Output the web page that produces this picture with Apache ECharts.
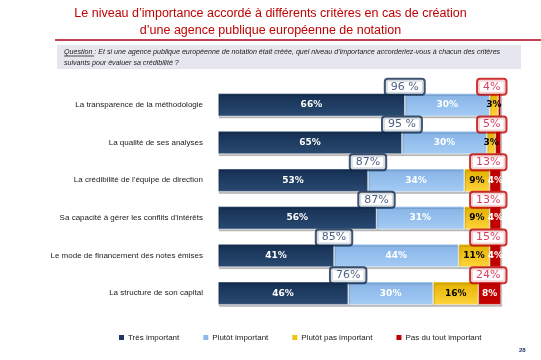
<!DOCTYPE html>
<html>
<head>
<meta charset="utf-8">
<script src="https://cdn.jsdelivr.net/npm/echarts@6/dist/echarts.min.js"></script>
<style>
html,body{margin:0;padding:0;background:#fff;}
#c{width:541px;height:360px;}
</style>
</head>
<body>
<div id="c"></div>
<script>
var categories = [
  "La transparence de la méthodologie",
  "La qualité de ses analyses",
  "La crédibilité de l'équipe de direction",
  "Sa capacité à gérer les conflits d'intérêts",
  "Le mode de financement des notes émises",
  "La structure de son capital"
];
var seriesNames = ["Très important", "Plutôt important", "Plutôt pas important", "Pas du tout important"];
var tresImportant = [66, 65, 53, 56, 41, 46];
var plutotImportant = [30, 30, 34, 31, 44, 30];
var plutotPasImportant = [3, 3, 9, 9, 11, 16];
var pasDuToutImportant = [1, 2, 4, 4, 4, 8];
var totalImportant = [96, 95, 87, 87, 85, 76];
var totalPasImportant = [4, 5, 13, 13, 15, 24];
var totalImportantSep = [" ", " ", "", "", "", ""];

var chart = echarts.init(document.getElementById('c'), null, {renderer: 'canvas'});

function grad(c1, c2) {
  return new echarts.graphic.LinearGradient(0, 0, 0, 1, [
    {offset: 0, color: c1}, {offset: 1, color: c2}
  ]);
}
var colors = [
  grad('#142f52', '#2a4a72'),
  grad('#86b3e6', '#a3cbf4'),
  grad('#e2b000', '#ffd43a'),
  grad('#c00000', '#c40000')
];
var legendColors = ['#1f3864', '#8db8ea', '#f2c40f', '#c00000'];

var valueArrays = [tresImportant, plutotImportant, plutotPasImportant, pasDuToutImportant];
var labelColors = ['#ffffff', '#ffffff', '#000000', '#ffffff'];
var minShow = [1, 1, 1, 3];

var barSeries = valueArrays.map(function (arr, i) {
  return {
    name: seriesNames[i],
    type: 'bar',
    stack: 'total',
    barWidth: 23,
    data: arr,
    itemStyle: {
      color: colors[i],
      borderColor: '#ffffff',
      borderWidth: 0.5,
      shadowColor: 'rgba(0,0,0,0.25)',
      shadowOffsetY: 2,
      shadowOffsetX: 1
    },
    label: {
      show: true,
      position: 'inside',
      color: labelColors[i],
      fontFamily: 'DejaVu Sans',
      fontWeight: 'bold',
      fontSize: 9,
      formatter: function (p) { return p.value >= minShow[i] ? p.value + '%' : ''; }
    },
    emphasis: {disabled: true},
    z: 2
  };
});

var importantBoxes = {
  type: 'scatter',
  symbolSize: 1,
  itemStyle: {color: 'rgba(0,0,0,0)'},
  data: tresImportant.map(function (v, i) { return [v, i]; }),
  label: {
    show: true,
    position: 'inside',
    offset: [0, -18],
    formatter: function (p) { return totalImportant[p.dataIndex] + totalImportantSep[p.dataIndex] + '%'; },
    color: '#1f3864',
    fontFamily: 'DejaVu Sans',
    fontSize: 11,
    backgroundColor: '#ffffff',
    borderColor: '#0f2a4d',
    borderWidth: 2,
    borderRadius: 2,
    padding: [2, 5, 1, 5]
  },
  emphasis: {disabled: true},
  z: 5
};
var notImportantBoxes = {
  type: 'scatter',
  symbolSize: 1,
  itemStyle: {color: 'rgba(0,0,0,0)'},
  data: pasDuToutImportant.map(function (v, i) { return [100, i]; }),
  label: {
    show: true,
    position: 'left',
    distance: -5,
    offset: [0, -18],
    formatter: function (p) { return totalPasImportant[p.dataIndex] + '%'; },
    color: '#d0103a',
    fontFamily: 'DejaVu Sans',
    fontSize: 11,
    backgroundColor: '#ffffff',
    borderColor: '#c00000',
    borderWidth: 2,
    borderRadius: 2,
    padding: [2, 5, 1, 5]
  },
  emphasis: {disabled: true},
  z: 5
};

var option = {
  animation: false,
  backgroundColor: '#ffffff',
  grid: {left: 218, right: 40, top: 86, height: 226},
  xAxis: {
    type: 'value', min: 0, max: 100, show: false
  },
  yAxis: {
    type: 'category',
    data: categories,
    inverse: true,
    axisLine: {show: false},
    axisTick: {show: false},
    axisLabel: {
      color: '#1a1a1a',
      fontFamily: 'Liberation Sans',
      fontSize: 8,
      margin: 15
    }
  },
  legend: {
    data: seriesNames.map(function (n, i) { return {name: n, itemStyle: {color: legendColors[i]}}; }),
    left: 112,
    top: 328,
    width: 420,
    itemWidth: 7,
    itemHeight: 7,
    itemGap: 22,
    icon: 'rect',
    textStyle: {fontFamily: 'Liberation Sans', fontSize: 8, color: '#1a1a1a', padding: [0, 0, 0, -2]},
    selectedMode: false
  },
  graphic: [
    {type: 'text', left: 'center', top: 5, style: {
      text: "Le niveau d’importance accordé à différents critères en cas de création\nd’une agence publique européenne de notation",
      x: 0, fill: '#c00000', font: '12.5px "Liberation Sans"', textAlign: 'center', lineHeight: 17
    }},
    {type: 'line', shape: {x1: 55, y1: 40, x2: 541, y2: 40}, style: {stroke: '#b0001a', lineWidth: 1.5}},
    {type: 'rect', shape: {x: 57, y: 45, width: 464, height: 24}, style: {fill: '#e6e6ef'}},
    {type: 'text', left: 64, top: 47, style: {
      text: 'Question : Et si une agence publique européenne de notation était créée, quel niveau d’importance accorderiez-vous à chacun des critères\nsuivants pour évaluer sa crédibilité ?',
      fill: '#222', font: 'italic 7.1px "Liberation Sans"', lineHeight: 11
    }},
    {type: 'line', shape: {x1: 64, y1: 56, x2: 94, y2: 56}, style: {stroke: '#222', lineWidth: 0.8}},
    {type: 'text', left: 519, top: 347, style: {text: '28', fill: '#1f3864', font: 'bold 6px "Liberation Sans"'}}
  ],
  series: barSeries.concat([importantBoxes, notImportantBoxes])
};
chart.setOption(option);
</script>
</body>
</html>
